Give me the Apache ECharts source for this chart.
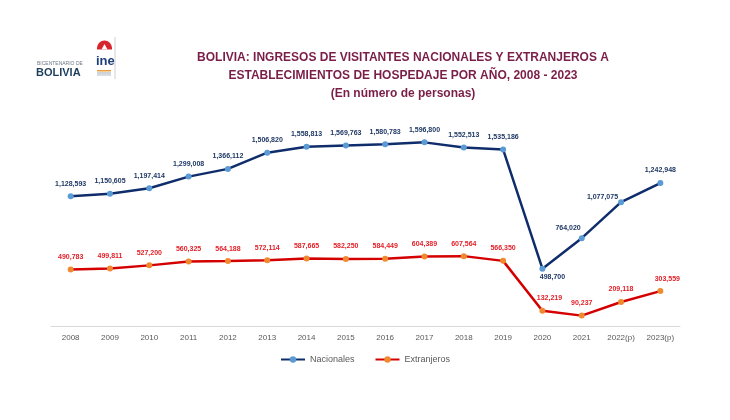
<!DOCTYPE html>
<html>
<head>
<meta charset="utf-8">
<script src="https://cdn.jsdelivr.net/npm/echarts@6/dist/echarts.min.js"></script>
<style>
html,body{margin:0;padding:0;background:#fff;}
#chart{width:730px;height:420px;}
</style>
</head>
<body>
<div id="chart"></div>
<script>
var years = ['2008','2009','2010','2011','2012','2013','2014','2015','2016','2017','2018','2019','2020','2021','2022(p)','2023(p)'];
var nacionales = [1128593,1150605,1197414,1299008,1366112,1506820,1558813,1569763,1580783,1596800,1552513,1535186,498700,764020,1077075,1242948];
var extranjeros = [490783,499811,527200,560325,564188,572114,587665,582250,584449,604389,607564,566350,132219,90237,209118,303559];

function fmt(v){ return v.toLocaleString('en-US'); }

var nacData = nacionales.map(function(v,i){
  var d = {value:v};
  if (i === 12) d.label = {position:'bottom', distance:4, offset:[10,-2]};
  if (i === 13) d.label = {position:'left', offset:[8,-10]};
  if (i === 14) d.label = {position:'left', offset:[6,-5]};
  return d;
});
var extData = extranjeros.map(function(v,i){
  var d = {value:v};
  if (i === 12 || i === 15) d.label = {offset:[7,0]};
  return d;
});

var FONT = 'Liberation Sans, Arial, sans-serif';
var chart = echarts.init(document.getElementById('chart'));
chart.setOption({
  backgroundColor:'#ffffff',
  animation:false,
  textStyle:{fontFamily:FONT},
  title:{
    text:'BOLIVIA: INGRESOS DE VISITANTES NACIONALES Y EXTRANJEROS A\nESTABLECIMIENTOS DE HOSPEDAJE POR AÑO, 2008 - 2023\n(En número de personas)',
    left:398, top:44, textAlign:'center',
    textStyle:{color:'#7A1E48', fontSize:12, fontWeight:'bold', lineHeight:18, fontFamily:FONT}
  },
  graphic:[
    {type:'text', left:37, top:61, style:{text:'BICENTENARIO DE', fill:'#6b7a88', font:'5px ' + FONT}},
    {type:'text', left:36, top:67, style:{text:'BOLIVIA', fill:'#1c3d5c', font:'bold 11px ' + FONT}},
    {type:'sector', shape:{cx:104.5, cy:48, r:7.5, r0:0, startAngle:Math.PI, endAngle:2*Math.PI}, style:{fill:'#d7262e'}},
    {type:'rect', shape:{x:97, y:47.5, width:15, height:2}, style:{fill:'#d7262e'}},
    {type:'polygon', shape:{points:[[101.5,49.5],[104.5,44],[107.5,49.5]]}, style:{fill:'#ffffff'}},
    {type:'text', left:96, top:55, style:{text:'ine', fill:'#1f3f7a', font:'bold 13px ' + FONT}},
    {type:'rect', shape:{x:97, y:70, width:14, height:1.5}, style:{fill:'#e8a13a'}},
    {type:'rect', shape:{x:97, y:72.5, width:14, height:1}, style:{fill:'#9aa7b5'}},
    {type:'rect', shape:{x:97, y:74.5, width:14, height:1}, style:{fill:'#b0bac6'}},
    {type:'line', shape:{x1:115, y1:37, x2:115, y2:79}, style:{stroke:'#d0d0d0', lineWidth:1}}
  ],
  legend:{
    bottom:51, left:'center',
    itemWidth:24, itemHeight:8, itemGap:20,
    textStyle:{color:'#595959', fontSize:9, fontFamily:FONT},
    data:['Nacionales','Extranjeros']
  },
  grid:{left:51, right:50, top:119, bottom:94},
  xAxis:{
    type:'category', data:years, boundaryGap:true,
    axisLine:{lineStyle:{color:'#d9d9d9', width:1}},
    axisTick:{show:false},
    axisLabel:{color:'#595959', fontSize:8, margin:8, fontFamily:FONT}
  },
  yAxis:{type:'value', min:0, max:1800000, show:false, splitLine:{show:false}},
  series:[
    {
      name:'Nacionales', type:'line', data:nacData,
      symbol:'circle', symbolSize:6,
      lineStyle:{color:'#0f2d6b', width:2.5},
      itemStyle:{color:'#5b9bd5', borderWidth:0},
      label:{show:true, position:'top', distance:6, color:'#1f3864', fontSize:7, fontWeight:'bold',
        fontFamily:FONT, formatter:function(p){return fmt(p.value);}}
    },
    {
      name:'Extranjeros', type:'line', data:extData,
      symbol:'circle', symbolSize:6,
      lineStyle:{color:'#d40000', width:2.5},
      itemStyle:{color:'#f08a30', borderWidth:0},
      label:{show:true, position:'top', distance:6, color:'#e41e26', fontSize:7, fontWeight:'bold',
        fontFamily:FONT, formatter:function(p){return fmt(p.value);}}
    }
  ]
});
</script>
</body>
</html>
